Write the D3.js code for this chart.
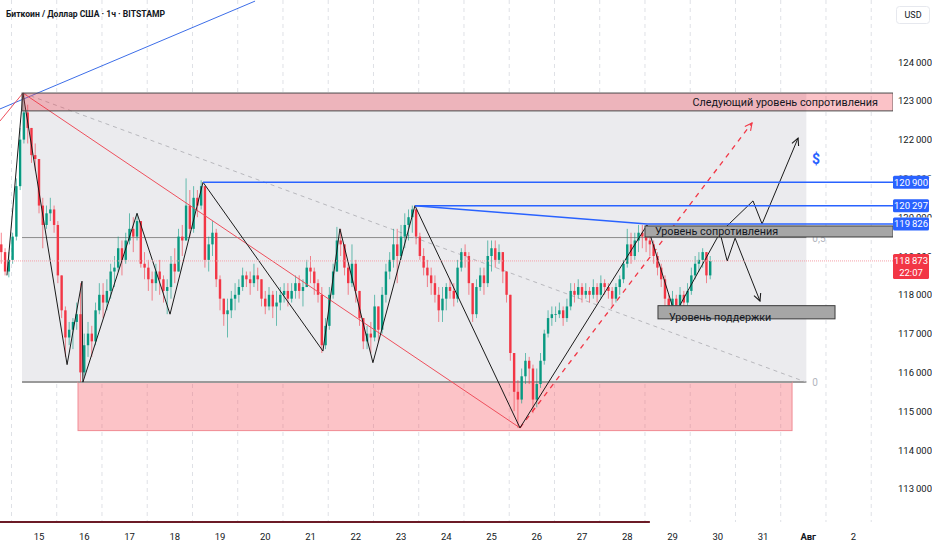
<!DOCTYPE html>
<html><head><meta charset="utf-8">
<script src="https://cdn.jsdelivr.net/npm/d3@7"></script>
<style>
html,body{margin:0;padding:0;background:#fff;}
svg{display:block;font-family:Roboto,"Liberation Sans",sans-serif;}
</style></head><body>
<svg id="c" width="932" height="550"></svg>
<script>
// ---- DATA ----
// 2-hour bars; hour offsets relative to 15 Jul 00:00
const barStartHour = -20, barStep = 2;
const firstOpen = 119300;
const closes = [
119100,118600,118900,119500,120800,122000,122700,122300,121600,121500,
120300,119800,120100,120200,119800,118500,117600,116900,117100,117300,117500,116000,
116700,117000,116800,117600,118000,117800,118100,118600,118700,119200,118900,119400,
119700,119500,119900,118800,118700,118400,118300,118600,118400,118100,118200,118800,
118600,119500,119400,120300,119700,120500,120300,120800,118900,119300,119600,118400,
117900,117500,117600,117900,118000,118200,118500,118400,118300,118500,118400,117900,
117700,118000,117700,117800,118000,118100,117900,118100,118300,118100,118200,118700,
118600,118300,118000,116700,117200,118000,118600,119400,119300,118700,118300,118800,
118100,117400,116800,117000,116900,117700,117100,118000,118600,118900,119300,119000,
119500,119800,120000,120200,119500,119000,118700,118500,118300,118000,117600,117900,
118200,118100,117900,118700,119100,119000,118300,117500,118200,118500,118300,119000,
119200,118900,119100,118600,118000,116500,115500,115300,115900,116300,116100,115300,
115700,116300,117000,117400,117500,117500,117600,117400,117700,118100,118000,118200,
118000,118100,118000,118200,118000,118300,118200,118100,117900,118200,118400,118800,
119300,119000,119400,119600,119500,119400,119300,119000,118700,118400,117900,117700,
117900,117600,118000,117800,118100,118500,118800,118900,119100,118500,118873];
const highs = [
119600,119200,119100,119600,121000,122300,123200,122900,122300,121900,
121500,120500,120300,120500,120300,119900,118500,117700,117300,117400,117800,118300,
117000,117300,117200,117800,118300,118300,118400,118800,119000,119500,119400,119600,
120100,120000,120100,119900,119100,118900,118600,118800,118900,118500,118400,119000,
119200,119700,119800,121000,120700,120800,120700,120950,120800,119500,119900,119700,
118500,117900,117900,118100,118300,118400,118700,118600,118600,118800,118700,118400,
118100,118200,118100,118100,118200,118300,118300,118300,118500,118500,118400,118900,
119000,118700,118400,118200,117400,118200,118800,119750,119700,119300,118800,119300,
118900,118100,117400,117200,117300,118000,117700,118200,118800,119100,119700,119700,
119800,120100,120200,120300,120200,119600,119200,118900,118700,118500,118200,118200,
118300,118400,118300,118900,119200,119300,119100,118300,118400,118700,118700,119400,
119400,119400,119300,119100,118600,118000,116500,115800,116100,116500,116400,116200,
116100,116500,117100,117600,117700,117700,117800,117700,117900,118300,118300,118400,
118300,118300,118200,118400,118300,118500,118400,118300,118200,118300,118500,118900,
119700,119600,119600,119800,119800,119800,119600,119400,119100,118800,118500,118000,
118100,118000,118200,118100,118300,118700,119000,119100,119200,119100,119000];
const lows = [
118800,118500,118450,118800,119400,120700,121900,121900,121400,121200,
120100,119200,119700,119900,119600,118300,117400,116400,116700,116600,117100,115750,
115900,116400,116400,116700,117500,117400,117600,117900,118200,118600,118500,118800,
119300,119100,119400,118700,118400,118100,117850,118100,118000,117800,117500,117900,
118300,118600,119000,119400,119500,119600,120000,120200,118700,118600,119000,118200,
117600,117200,116900,117400,117600,117800,118100,118200,118000,118200,118100,117700,
117500,117600,117400,117200,117600,117800,117700,117800,117900,117900,117700,118200,
118300,118000,117800,116500,116600,117100,117900,118600,119000,118500,118000,118200,
117800,117200,116600,116600,116500,116800,116800,117000,117800,118400,118700,118300,
118900,119200,119400,119600,119300,118900,118500,118200,118000,117800,117300,117300,
117600,117900,117700,117800,118600,118700,118000,117300,117400,118100,118000,118200,
118600,118700,118800,118300,117800,116300,115000,114570,115200,115700,115700,114950,
115100,115600,116200,116900,117200,117300,117400,117200,117300,117600,117800,117900,
117800,117900,117800,117900,117800,117900,118000,117900,117700,117800,118000,118300,
118700,118800,118900,119100,119200,119100,119000,118800,118500,118200,117700,117500,
117500,117450,117500,117600,117700,118000,118400,118600,118700,118300,118400];

const dayLabels = ["15","16","17","18","19","20","21","22","23","24","25","26","27","28","29","30","31","Авг","2"];
const dayHours  = [0,24,48,72,96,120,144,168,192,216,240,264,288,312,336,360,384,408,432];
const priceTicks = [113000,114000,115000,116000,117000,118000,119000,120000,121000,122000,123000,124000];
const levelPrices = [120900, 120297, 119826];
const levelStartHours = [87, 199.4, 322.5];
const lastPrice = 118873, lastPriceTime = "22:07";

// drawings: [hour, price]
const zigzag = [[-17,118500],[-8.5,123200],[14.9,116200],[22.8,118350],[23.3,115750],[52,120100],[69.5,117500],[87,120900],[150.6,116550],[159.6,119700],[177.1,116250],[199.4,120297],[255.1,114570],[322.5,119800],[337.3,117500],[361.2,119600]];
const projUp = [[361.2,119600],[378.7,120420],[383.5,119826],[402.6,122040]];
const projDown = [[361.2,119600],[365,118870],[369.2,119460],[382.4,117840]];
const redLine1 = [[-20.7,122480],[-8.5,123200]];
const redLine2 = [[-8.5,123200],[255.1,114570]];
const blueDiag = [[-20.7,122790],[114.6,125570]];
const grayDash = [[-8.5,123200],[406.8,115750]];
const pinkArrow = [[255.1,114570],[378.2,122430]];
const blueSlope = [[199.4,120297],[322.5,119826]];
const fib = {h0:-9, h1:407, top:123200, bottom:115750};
const topBand = {h0:-9, h1:453, p0:123200, p1:122740, text:"Следующий уровень сопротивления", textHour:445};
const pinkBox = {h0:20.7, h1:399.4, p0:115750, p1:114500};
const resBand = {h0:321.4, h1:453, p0:119774, p1:119490, text:"Уровень сопротивления", textHour:326.7, textPrice:119640};
const supBox = {h0:328.3, h1:422.2, p0:117720, p1:117380, text:"Уровень поддержки", textHour:334.1, textPrice:117440};
const dollarMark = [410, 121380];
const bottomLine = [-21, 324];
const gridOffsetHour = -14.6;

// ---- SCALES ----
const x = d3.scaleLinear().domain([0,24]).range([39,84.25]);
const y = d3.scaleLinear().domain([113000,124000]).range([488.8,62]);
const plotRight = 893, axisY = 522;
const svg = d3.select('#c');
const line = d3.line().x(d=>x(d[0])).y(d=>y(d[1]));

const defs = svg.append('defs');
defs.append('clipPath').attr('id','plot').append('rect').attr('x',0).attr('y',0).attr('width',plotRight).attr('height',axisY);
function marker(id,color){
  defs.append('marker').attr('id',id).attr('viewBox','0 0 10 10').attr('refX',9).attr('refY',5)
    .attr('markerWidth',9).attr('markerHeight',9).attr('markerUnits','userSpaceOnUse').attr('orient','auto')
    .append('path').attr('d','M1,1 L9,5 L1,9').attr('fill','none').attr('stroke',color).attr('stroke-width',1.2);
}
marker('arrB','#1a1a1a'); marker('arrR','#f23645');

svg.append('rect').attr('width',932).attr('height',550).attr('fill','#fff');
const g = svg.append('g').attr('clip-path','url(#plot)');

// grid
const gridH = d3.range(0,20).map(k=>gridOffsetHour+24*k);
g.selectAll('.grid').data(gridH).join('line')
  .attr('x1',d=>x(d)).attr('x2',d=>x(d)).attr('y1',0).attr('y2',axisY)
  .attr('stroke','#dfe1e6').attr('stroke-dasharray','4,4').attr('stroke-width',1);

// fib area
g.append('rect').attr('x',x(fib.h0)).attr('y',y(fib.top)).attr('width',x(fib.h1)-x(fib.h0)).attr('height',y(fib.bottom)-y(fib.top)).attr('fill','#ebebee');
const fibMid = (fib.top+fib.bottom)/2;
g.append('line').attr('x1',x(fib.h0)).attr('x2',x(fib.h1)).attr('y1',y(fibMid)).attr('y2',y(fibMid)).attr('stroke','#8c8c8c').attr('stroke-width',1);
g.append('line').attr('x1',x(fib.h0)).attr('x2',x(fib.h1)).attr('y1',y(fib.bottom)).attr('y2',y(fib.bottom)).attr('stroke','#9a9a9a').attr('stroke-width',2);
g.append('text').attr('x',x(fib.h1)+6).attr('y',y(fibMid)+4).text('0,5').attr('font-size',10).attr('fill','#b2b5be');
g.append('text').attr('x',x(fib.h1)+6).attr('y',y(fib.bottom)+4).text('0').attr('font-size',10).attr('fill','#b2b5be');

// bottom pink box
g.append('rect').attr('x',x(pinkBox.h0)).attr('y',y(pinkBox.p0)).attr('width',x(pinkBox.h1)-x(pinkBox.h0)).attr('height',y(pinkBox.p1)-y(pinkBox.p0))
  .attr('fill','rgba(247,82,95,0.35)').attr('stroke','#f08a93').attr('stroke-width',1);
g.append('line').attr('x1',x(pinkBox.h0)).attr('x2',x(pinkBox.h1)).attr('y1',y(pinkBox.p0)).attr('y2',y(pinkBox.p0)).attr('stroke','#9a9a9a').attr('stroke-width',2);

// diagonals behind candles
g.append('path').attr('d',line(blueDiag)).attr('stroke','#3d6ee8').attr('stroke-width',1).attr('fill','none');
g.append('path').attr('d',line(grayDash)).attr('stroke','#b8b8bd').attr('stroke-width',1).attr('stroke-dasharray','4,4').attr('fill','none');

// candles
const bars = closes.map((c,i)=>{
  const o = i===0?firstOpen:closes[i-1];
  return {t:barStartHour+barStep*i,o,c,h:Math.max(highs[i],o,c),l:Math.min(lows[i],o,c)};
});
const colorOf = d=>d.c>=d.o?'#089981':'#f23645';
g.selectAll('.wick').data(bars).join('line')
  .attr('x1',d=>x(d.t)).attr('x2',d=>x(d.t)).attr('y1',d=>y(d.h)).attr('y2',d=>y(d.l))
  .attr('stroke',colorOf).attr('stroke-width',0.8).attr('opacity',0.75);
g.selectAll('.body').data(bars).join('rect')
  .attr('x',d=>x(d.t)-1.2).attr('width',2.4)
  .attr('y',d=>y(Math.max(d.o,d.c))).attr('height',d=>Math.max(0.8,Math.abs(y(d.o)-y(d.c))))
  .attr('fill',colorOf);

// red lines
g.append('path').attr('d',line(redLine1)).attr('stroke','#ee4f5c').attr('stroke-width',1).attr('fill','none');
g.append('path').attr('d',line(redLine2)).attr('stroke','#ee4f5c').attr('stroke-width',1).attr('fill','none');
g.append('path').attr('d',line(pinkArrow)).attr('stroke','#f23645').attr('stroke-width',1.3).attr('stroke-dasharray','5,5').attr('fill','none').attr('marker-end','url(#arrR)');

// zigzag
g.append('path').attr('d',line(zigzag)).attr('stroke','#1a1a1a').attr('stroke-width',1).attr('fill','none');
g.append('path').attr('d',line(projUp)).attr('stroke','#1a1a1a').attr('stroke-width',1).attr('fill','none').attr('marker-end','url(#arrB)');
g.append('path').attr('d',line(projDown)).attr('stroke','#1a1a1a').attr('stroke-width',1).attr('fill','none').attr('marker-end','url(#arrB)');

// top band
g.append('rect').attr('x',x(topBand.h0)).attr('y',y(topBand.p0)).attr('width',x(topBand.h1)-x(topBand.h0)).attr('height',y(topBand.p1)-y(topBand.p0))
  .attr('fill','rgba(242,54,69,0.3)').attr('stroke','#4a4a4a').attr('stroke-width',1);
g.append('text').attr('x',x(topBand.textHour)).attr('y',y((topBand.p0+topBand.p1)/2)+4).attr('text-anchor','end')
  .attr('font-size',10.8).attr('fill','#131722').text(topBand.text);

// blue levels
levelPrices.forEach((p,i)=>{
  g.append('line').attr('x1',x(levelStartHours[i])).attr('x2',plotRight).attr('y1',y(p)).attr('y2',y(p)).attr('stroke','#2962ff').attr('stroke-width',1.5);
});
g.append('path').attr('d',line(blueSlope)).attr('stroke','#2962ff').attr('stroke-width',1.5).attr('fill','none');
g.append('text').attr('x',x(dollarMark[0])).attr('y',y(dollarMark[1])).attr('font-size',14).attr('font-weight','bold').attr('fill','#2962ff').text('$');

// gray bands
[resBand,supBox].forEach(b=>{
  g.append('rect').attr('x',x(b.h0)).attr('y',y(b.p0)).attr('width',x(b.h1)-x(b.h0)).attr('height',y(b.p1)-y(b.p0))
    .attr('fill','#a6a6a6').attr('stroke','#3c3c3c').attr('stroke-width',1);
  g.append('text').attr('x',x(b.textHour)).attr('y',y(b.textPrice)+4).attr('font-size',10.8).attr('fill','#131722').text(b.text);
});

// last price line
g.append('line').attr('x1',0).attr('x2',plotRight).attr('y1',y(lastPrice)).attr('y2',y(lastPrice)).attr('stroke','#f5a0a8').attr('stroke-width',1).attr('stroke-dasharray','1,1');

// bottom line
svg.append('line').attr('x1',x(bottomLine[0])).attr('x2',x(bottomLine[1])).attr('y1',axisY).attr('y2',axisY).attr('stroke','#6b1b26').attr('stroke-width',2);

// price axis: label boxes cover tick text; ticks clipped to the uncovered strips
const fmt = p=>d3.format(',')(p).replace(',','\u2009');
const boxes = levelPrices.map(p=>[y(p)-6.5,y(p)+6.5]).concat([[y(lastPrice)-7,y(lastPrice)+18]]).sort((a,b)=>a[0]-b[0]);
const axClip = defs.append('clipPath').attr('id','axclip');
let cur = 0;
boxes.forEach(b=>{ if(b[0]>cur) axClip.append('rect').attr('x',plotRight).attr('y',cur).attr('width',40).attr('height',b[0]-cur); cur=Math.max(cur,b[1]); });
axClip.append('rect').attr('x',plotRight).attr('y',cur).attr('width',40).attr('height',550-cur);
svg.append('g').attr('clip-path','url(#axclip)').selectAll('.pt').data(priceTicks).join('text')
  .attr('x',898).attr('y',d=>y(d)+3.5).attr('font-size',9.5).attr('fill','#131722').text(fmt);
levelPrices.forEach(p=>{
  svg.append('rect').attr('x',plotRight).attr('y',y(p)-6.5).attr('width',36).attr('height',13).attr('rx',1.5).attr('fill','#2962ff');
  svg.append('text').attr('x',plotRight+18).attr('y',y(p)+3.5).attr('text-anchor','middle').attr('font-size',9.5).attr('fill','#fff').text(fmt(p));
});
svg.append('rect').attr('x',plotRight).attr('y',y(lastPrice)-7).attr('width',36).attr('height',25).attr('rx',1.5).attr('fill','#f23645');
svg.append('text').attr('x',plotRight+18).attr('y',y(lastPrice)+3.5).attr('text-anchor','middle').attr('font-size',9.5).attr('fill','#fff').text(fmt(lastPrice));
svg.append('text').attr('x',plotRight+18).attr('y',y(lastPrice)+15).attr('text-anchor','middle').attr('font-size',9.5).attr('fill','#fff').text(lastPriceTime);

// USD box
svg.append('rect').attr('x',896.5).attr('y',6.5).attr('width',33).attr('height',17).attr('rx',3).attr('fill','#fff').attr('stroke','#e6e8ee');
svg.append('text').attr('x',913).attr('y',18).attr('text-anchor','middle').attr('font-size',9).attr('fill','#131722').text('USD');

// time axis
svg.selectAll('.dl').data(dayLabels).join('text')
  .attr('x',(d,i)=>x(dayHours[i])).attr('y',540).attr('text-anchor','middle').attr('font-size',9.5)
  .attr('font-weight',d=>d==='Авг'?'bold':'normal').attr('fill','#131722').text(d=>d);

// title
svg.append('text').attr('x',6).attr('y',17).attr('font-size',8.6).attr('font-weight','bold').attr('fill','#131722').text('Биткоин / Доллар США · 1ч · BITSTAMP');
</script>
</body></html>
